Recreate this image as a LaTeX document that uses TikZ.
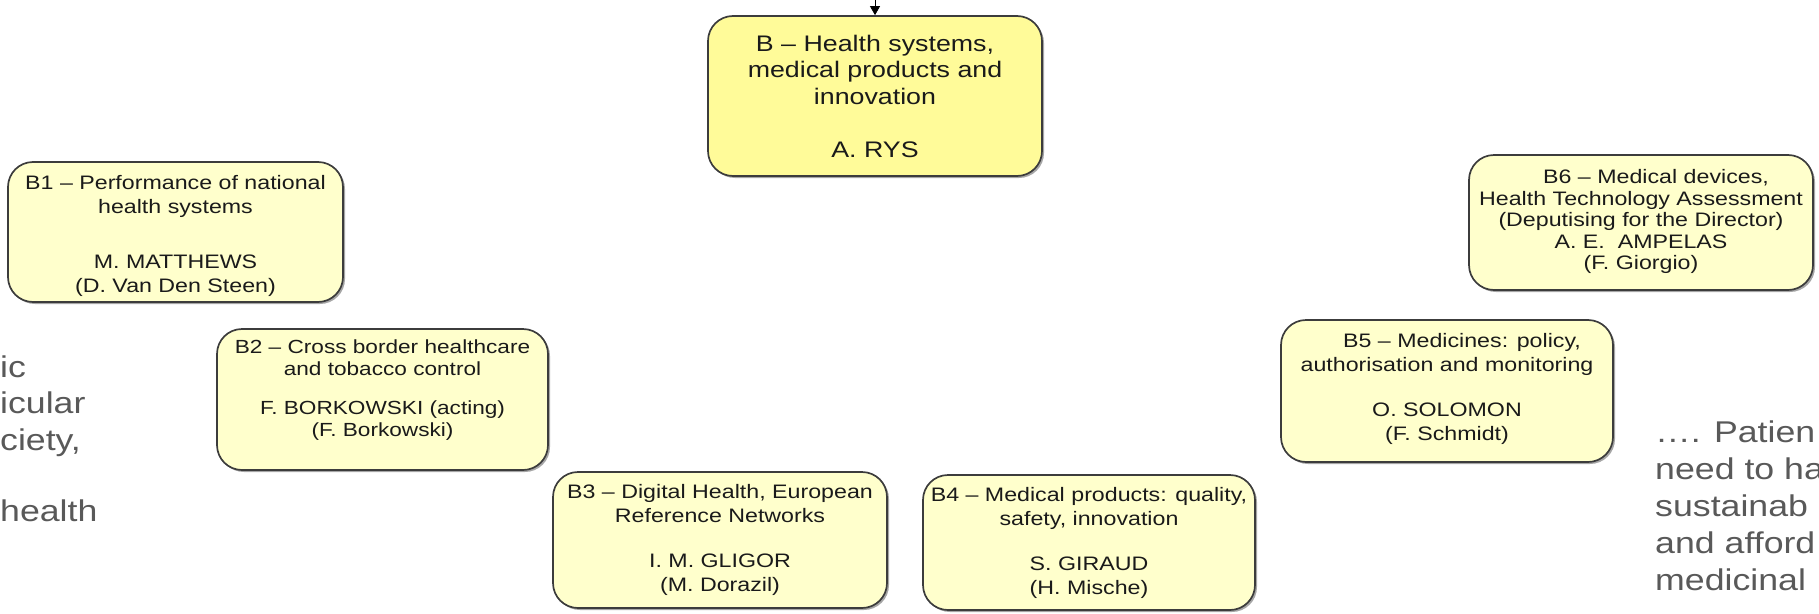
\documentclass[tikz,border=0pt]{standalone}
\usepackage{fontspec}
\setmainfont{Liberation Sans}[FakeStretch=1.19]
\usetikzlibrary{arrows.meta,shadows}
\definecolor{boxfill}{HTML}{FFFFCC}
\definecolor{headfill}{HTML}{FFFB99}
\definecolor{edge}{HTML}{3C3C3C}
\definecolor{sidegray}{HTML}{595959}
\definecolor{ink}{HTML}{1A1A1A}
\newcommand\lowfix[1]{\rule[-#1]{0pt}{#1}}
\newcommand\topfix[1]{\rule{0pt}{#1}}
\tikzset{
  unit/.style={draw=edge, line width=1.7pt, rounded corners=25pt, fill=boxfill,
    align=center, font=\fontsize{19.5}{24}\selectfont, inner sep=2pt, text=ink,
    drop shadow={shadow xshift=2pt, shadow yshift=-2pt, fill=black, opacity=0.35}},
  head/.style={unit, fill=headfill, font=\fontsize{22.5}{26.5}\selectfont},
  tight/.style={font=\fontsize{19.5}{21.5}\selectfont},
  snug/.style={font=\fontsize{19}{22}\selectfont},
  side/.style={text=sidegray, font=\fontsize{30}{36}\selectfont, inner sep=0pt, anchor=base west},
}
\begin{document}
\begin{tikzpicture}[x=1pt,y=-1pt]
\useasboundingbox (0,0) rectangle (1819,613);
\node[head, minimum width=334pt, minimum height=160pt] (B) at (875,96)
  {B – Health systems,\\medical products and\\innovation\\[26.5pt]A. RYS};
\node[unit, minimum width=335pt, minimum height=140pt] (B1) at (175.5,232)
  {\topfix{22pt}B1 – Performance of national\\health systems\\[31pt]M. MATTHEWS\\(D. Van Den Steen)};
\node[unit, snug, minimum width=331pt, minimum height=141pt] (B2) at (382.5,399.5)
  {B2 – Cross border healthcare\\and tobacco control\\[17pt]F. BORKOWSKI (acting)\\(F. Borkowski)\lowfix{22pt}};
\node[unit, minimum width=334pt, minimum height=136pt] (B3) at (720,540)
  {B3 – Digital Health, European\\Reference Networks\\[21pt]I. M. GLIGOR\\(M. Dorazil)};
\node[unit, minimum width=332pt, minimum height=135pt] (B4) at (1089,542.5)
  {B4 – Medical products: quality,\\safety, innovation\\[21pt]S. GIRAUD\\(H. Mische)};
\node[unit, minimum width=332pt, minimum height=142pt] (B5) at (1447,391)
  {\hspace*{30pt}B5 – Medicines: policy,\\authorisation and monitoring\\[21pt]O. SOLOMON\\(F. Schmidt)\lowfix{9pt}};
\node[unit, tight, minimum width=344pt, minimum height=135pt] (B6) at (1641,222.5)
  {\hspace*{30pt}B6 – Medical devices,\\Health Technology Assessment\\(Deputising for the Director)\\A. E.\ \ AMPELAS\\(F. Giorgio)\lowfix{6pt}};
\coordinate (top) at (875,0);
\draw[line width=0.8pt, -{Triangle[width=10pt,length=9pt]}] (top) -- (B.north);
\node[side] (L1) at (0,377) {ic};
\node[side] (L2) at (0,413.5) {icular};
\node[side] (L3) at (0,450) {ciety,};
\node[side] (L4) at (0,521) {health};
\node[side] (R1) at (1655,442) {…. Patien};
\node[side] (R2) at (1655,479) {need to ha};
\node[side] (R3) at (1655,516) {sustainab};
\node[side] (R4) at (1655,553) {and afford};
\node[side] (R5) at (1655,590) {medicinal};
\end{tikzpicture}
\end{document}
